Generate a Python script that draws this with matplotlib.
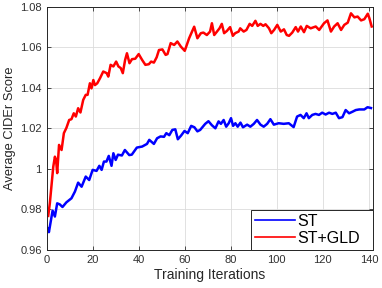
import matplotlib
matplotlib.use("Agg")
from matplotlib import pyplot as plt
from matplotlib.ticker import FuncFormatter

# values (iteration, average CIDEr)
st_iters = [0.7, 1.0, 2.6, 3.6, 4.6, 5.7, 6.9, 8.6, 10.8, 12.3, 13.7, 15.2, 17.0, 18.5,
            20.0, 21.7, 22.9, 23.9, 24.9, 26.0, 27.0, 28.2, 29.0, 30.0, 31.0, 32.7, 34.0,
            35.9, 37.0, 39.2, 41.5, 43.6, 44.6, 46.6, 48.0, 49.5, 51.0, 52.0, 53.3, 54.6,
            55.9, 57.0, 58.4, 59.9, 61.3, 62.8, 64.2, 65.5, 66.7, 68.9, 70.3, 71.8, 73.3,
            74.7, 75.7, 76.9, 78.0, 79.1, 80.1, 81.0, 82.0, 83.0, 84.2, 85.3, 87.1, 88.5,
            90.0, 91.4, 92.9, 94.3, 95.8, 97.2, 98.7, 100.8, 103.0, 105.2, 107.3, 108.8,
            110.3, 111.7, 112.9, 113.9, 115.4, 116.8, 118.3, 119.7, 121.2, 122.7, 124.1,
            125.6, 127.0, 128.5, 129.9, 131.4, 132.9, 134.3, 135.8, 138.0, 139.4, 140.9]
st_scores = [0.9707, 0.9688, 0.9794, 0.9765, 0.9830, 0.9825, 0.9812, 0.9835, 0.9855, 0.9888,
             0.9932, 0.9912, 0.9962, 0.9945, 0.9995, 0.9990, 1.0015, 0.9995, 1.0036, 1.0036,
             1.0064, 1.0015, 1.0077, 1.0044, 1.0070, 1.0066, 1.0093, 1.0068, 1.0070, 1.0105,
             1.0110, 1.0123, 1.0143, 1.0123, 1.0151, 1.0160, 1.0158, 1.0176, 1.0166, 1.0192,
             1.0195, 1.0146, 1.0164, 1.0187, 1.0176, 1.0212, 1.0205, 1.0185, 1.0192, 1.0222,
             1.0235, 1.0215, 1.0200, 1.0234, 1.0222, 1.0241, 1.0208, 1.0225, 1.0250, 1.0212,
             1.0225, 1.0208, 1.0228, 1.0205, 1.0218, 1.0208, 1.0222, 1.0241, 1.0218, 1.0208,
             1.0222, 1.0245, 1.0218, 1.0225, 1.0222, 1.0225, 1.0206, 1.0258, 1.0266, 1.0250,
             1.0274, 1.0250, 1.0266, 1.0271, 1.0266, 1.0277, 1.0268, 1.0277, 1.0271, 1.0277,
             1.0250, 1.0255, 1.0290, 1.0274, 1.0282, 1.0290, 1.0293, 1.0293, 1.0304, 1.0300]

gld_iters = [0.7, 1.4, 2.9, 3.6, 4.1, 4.6, 5.4, 6.5, 7.5, 8.6, 9.8, 10.8, 11.8, 12.7, 13.7,
             14.7, 15.9, 17.0, 17.8, 18.8, 19.5, 20.3, 21.0, 22.0, 23.2, 24.6, 26.1, 26.8,
             27.8, 29.0, 30.2, 31.2, 32.2, 33.1, 34.1, 34.9, 36.0, 37.1, 38.5, 40.0, 41.5,
             42.9, 44.4, 45.4, 46.6, 47.8, 48.8, 50.3, 51.7, 52.5, 53.9, 55.4, 56.8, 58.3,
             60.0, 61.9, 64.1, 65.5, 67.0, 68.1, 69.6, 71.0, 71.8, 72.8, 74.0, 75.1, 76.1,
             77.1, 78.3, 79.7, 80.9, 81.9, 83.4, 84.1, 85.6, 86.8, 88.2, 89.3, 90.7, 91.7,
             92.9, 94.1, 95.1, 96.6, 97.6, 98.8, 100.2, 101.7, 103.1, 104.3, 105.3, 106.7,
             108.2, 109.2, 110.4, 111.8, 113.0, 114.7, 116.9, 118.4, 120.5, 122.0, 123.5,
             124.9, 126.4, 127.9, 129.3, 130.8, 132.2, 133.7, 135.1, 136.6, 138.0, 139.5,
             140.2, 141.2]
gld_scores = [0.9768, 0.9830, 1.0011, 1.0060, 1.0045, 0.9979, 1.0118, 1.0093, 1.0176, 1.0202,
              1.0241, 1.0245, 1.0274, 1.0258, 1.0299, 1.0278, 1.0340, 1.0365, 1.0365, 1.0422,
              1.0397, 1.0438, 1.0413, 1.0422, 1.0447, 1.0480, 1.0472, 1.0455, 1.0513, 1.0505,
              1.0529, 1.0505, 1.0497, 1.0472, 1.0537, 1.0570, 1.0521, 1.0541, 1.0543, 1.0566,
              1.0537, 1.0513, 1.0516, 1.0529, 1.0524, 1.0550, 1.0586, 1.0589, 1.0562, 1.0566,
              1.0620, 1.0611, 1.0628, 1.0603, 1.0582, 1.0644, 1.0701, 1.0644, 1.0669, 1.0672,
              1.0660, 1.0677, 1.0718, 1.0660, 1.0677, 1.0693, 1.0715, 1.0669, 1.0680, 1.0699,
              1.0656, 1.0669, 1.0677, 1.0693, 1.0677, 1.0685, 1.0715, 1.0705, 1.0730, 1.0705,
              1.0715, 1.0705, 1.0713, 1.0693, 1.0669, 1.0685, 1.0710, 1.0677, 1.0688, 1.0660,
              1.0656, 1.0672, 1.0699, 1.0677, 1.0702, 1.0674, 1.0705, 1.0693, 1.0702, 1.0685,
              1.0718, 1.0732, 1.0677, 1.0702, 1.0718, 1.0685, 1.0710, 1.0721, 1.0767, 1.0747,
              1.0751, 1.0732, 1.0738, 1.0765, 1.0743, 1.0702]

x_ticks = [0, 20, 40, 60, 80, 100, 120, 140]
y_ticks = [0.96, 0.98, 1.0, 1.02, 1.04, 1.06, 1.08]

plt.rcParams['font.family'] = ['Liberation Sans', 'DejaVu Sans']

fig = plt.figure(figsize=(3.82, 2.88), dpi=100)
ax = fig.add_axes([0.122, 0.132, 0.854, 0.845])

ax.plot(st_iters, st_scores, color=(0, 0, 1), linewidth=1.8, label='ST')
ax.plot(gld_iters, gld_scores, color=(1, 0, 0), linewidth=1.8, label='ST+GLD')

ax.set_xlim(0, 141.7)
ax.set_ylim(0.96, 1.08)
ax.set_xticks(x_ticks)
ax.set_yticks(y_ticks)
ax.yaxis.set_major_formatter(FuncFormatter(lambda v, p: ('%g' % round(v, 2))))
ax.tick_params(direction='in', labelsize=8, length=3, width=0.6, colors='#303030',
               top=True, right=True)
ax.grid(True, color='#dcdcdc', linewidth=0.6)
ax.set_axisbelow(True)
for s in ax.spines.values():
    s.set_linewidth(0.7)
    s.set_color('#262626')

ax.set_xlabel('Training Iterations', fontsize=10, color='#262626', labelpad=2)
ax.set_ylabel('Average CIDEr Score', fontsize=9.3, color='#262626', labelpad=3)

# legend box fills the lower-right corner like the MATLAB one
leg = ax.legend(loc='lower left', bbox_to_anchor=(0.626, 0.0, 0.374, 0.185),
                mode='expand', fontsize=11.5, fancybox=False, framealpha=1,
                edgecolor='#262626', borderaxespad=0, handlelength=2.5,
                handletextpad=0.15, borderpad=0.25, labelspacing=0.15)
leg.get_frame().set_linewidth(0.7)
for h in leg.get_lines():
    h.set_linewidth(1.2)

fig.savefig('out.png', dpi=100)
